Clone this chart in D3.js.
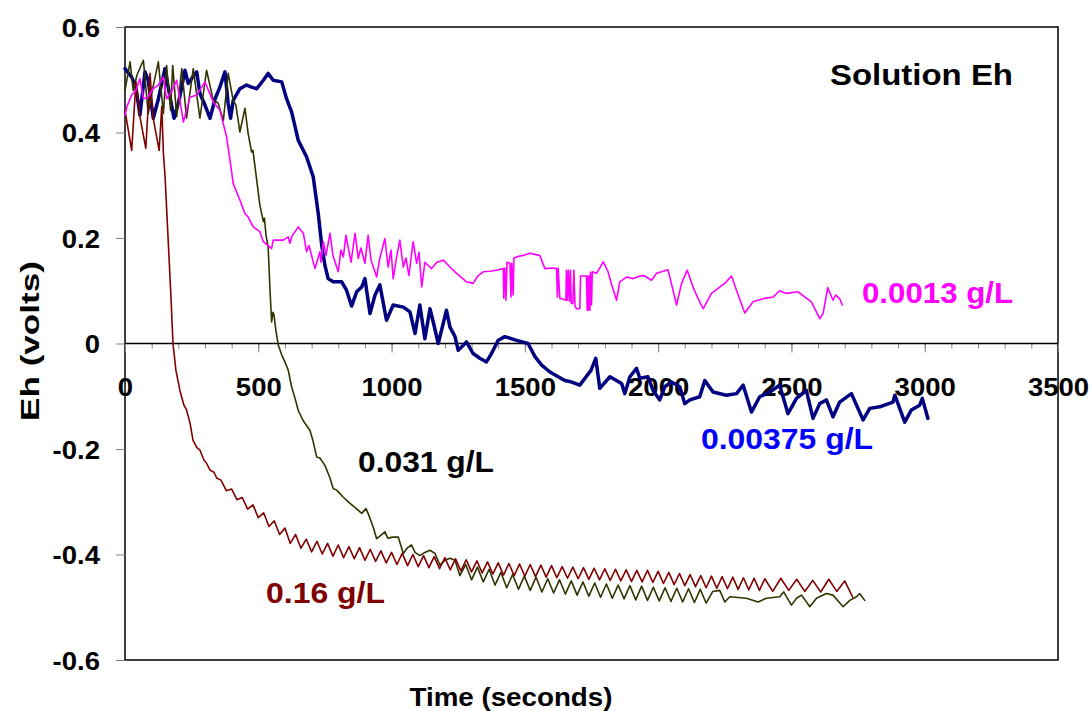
<!DOCTYPE html>
<html><head><meta charset="utf-8">
<script src="https://cdn.jsdelivr.net/npm/d3@7"></script>
<style>
body{margin:0;background:#fff}
svg{display:block}
text{font-family:"Liberation Sans",Arial,Helvetica,sans-serif;font-weight:bold}
</style>
</head><body>
<svg id="chart" width="1092" height="711"></svg>
<script>
// ---------- data ----------
const xTicks = [0, 500, 1000, 1500, 2000, 2500, 3000, 3500];
const xMinorTicks = [0,100,200,300,400,500,600,700,800,900,1000,1100,1200,1300,1400,1500,1600,1700,1800,1900,2000,2100,2200,2300,2400,2500,2600,2700,2800,2900,3000,3100,3200,3300,3400,3500];
const yTicks = [-0.6, -0.4, -0.2, 0, 0.2, 0.4, 0.6];
const seriesLabels = ["0.0013 g/L", "0.00375 g/L", "0.031 g/L", "0.16 g/L"];
const chartTitle = "Solution Eh";
const xTitle = "Time (seconds)";
const yTitle = "Eh (volts)";

// [time (s), Eh (V)]
const eh0013 = [[0,0.433],[8,0.450],[25,0.471],[41,0.480],[56,0.502],[69,0.464],[86,0.467],[106,0.483],[125,0.490],[144,0.505],[156,0.464],[173,0.476],[194,0.499],[219,0.420],[244,0.467],[269,0.471],[300,0.496],[331,0.458],[356,0.442],[381,0.392],[394,0.347],[406,0.303],[431,0.272],[450,0.246],[462,0.240],[481,0.221],[506,0.212],[519,0.193],[550,0.180],[556,0.196],[594,0.196],[612,0.202],[619,0.190],[626,0.203],[650,0.221],[669,0.209],[681,0.174],[690,0.186],[713,0.142],[731,0.174],[735,0.154],[744,0.193],[754,0.167],[769,0.209],[780,0.167],[800,0.136],[810,0.177],[819,0.164],[829,0.205],[837,0.183],[848,0.154],[863,0.209],[875,0.161],[885,0.181],[900,0.152],[912,0.205],[923,0.158],[944,0.126],[956,0.162],[975,0.199],[987,0.145],[998,0.177],[1006,0.123],[1020,0.167],[1031,0.196],[1044,0.145],[1054,0.162],[1065,0.129],[1081,0.193],[1094,0.152],[1103,0.173],[1113,0.107],[1125,0.154],[1150,0.142],[1170,0.154],[1194,0.158],[1219,0.145],[1244,0.133],[1281,0.117],[1306,0.114],[1324,0.128],[1344,0.136],[1369,0.137],[1394,0.139],[1419,0.142],[1421,0.086],[1425,0.143],[1429,0.082],[1433,0.154],[1444,0.152],[1448,0.088],[1451,0.152],[1456,0.092],[1459,0.162],[1474,0.165],[1494,0.167],[1519,0.171],[1538,0.169],[1556,0.167],[1575,0.142],[1601,0.143],[1619,0.142],[1622,0.088],[1625,0.143],[1631,0.086],[1643,0.084],[1654,0.082],[1656,0.139],[1659,0.082],[1663,0.139],[1667,0.080],[1671,0.139],[1674,0.076],[1680,0.076],[1684,0.139],[1688,0.071],[1694,0.066],[1706,0.066],[1709,0.128],[1731,0.128],[1734,0.063],[1736,0.128],[1739,0.063],[1741,0.128],[1744,0.063],[1746,0.135],[1750,0.073],[1753,0.136],[1769,0.133],[1781,0.143],[1794,0.155],[1812,0.136],[1826,0.111],[1844,0.082],[1856,0.117],[1881,0.126],[1906,0.123],[1938,0.129],[1950,0.128],[1975,0.120],[1994,0.133],[2037,0.140],[2051,0.111],[2069,0.073],[2088,0.114],[2109,0.139],[2131,0.107],[2149,0.086],[2169,0.066],[2200,0.095],[2231,0.107],[2254,0.116],[2275,0.128],[2294,0.101],[2325,0.058],[2356,0.079],[2394,0.085],[2431,0.088],[2456,0.100],[2481,0.095],[2525,0.098],[2546,0.090],[2575,0.079],[2606,0.047],[2619,0.057],[2636,0.106],[2656,0.082],[2666,0.092],[2681,0.085],[2691,0.073]];

const eh00375 = [[0,0.521],[25,0.505],[41,0.486],[56,0.433],[75,0.515],[87,0.499],[106,0.427],[124,0.461],[150,0.521],[162,0.486],[184,0.427],[203,0.461],[225,0.518],[237,0.493],[251,0.503],[269,0.515],[281,0.474],[300,0.452],[319,0.427],[338,0.464],[356,0.486],[375,0.515],[387,0.455],[396,0.427],[406,0.461],[431,0.483],[456,0.490],[475,0.486],[494,0.483],[519,0.499],[537,0.512],[556,0.499],[588,0.496],[606,0.464],[625,0.439],[650,0.385],[681,0.354],[706,0.316],[725,0.246],[738,0.186],[750,0.148],[762,0.123],[781,0.117],[813,0.117],[831,0.101],[850,0.071],[869,0.098],[888,0.107],[900,0.123],[919,0.057],[938,0.092],[956,0.111],[981,0.044],[1006,0.073],[1044,0.069],[1069,0.060],[1088,0.019],[1106,0.073],[1125,0.009],[1144,0.066],[1159,0.035],[1175,0.000],[1206,0.063],[1219,0.031],[1238,0.013],[1250,-0.013],[1281,0.003],[1306,-0.019],[1331,-0.028],[1356,-0.035],[1375,-0.019],[1400,0.006],[1425,0.013],[1469,0.006],[1512,0.000],[1538,-0.025],[1563,-0.041],[1594,-0.054],[1625,-0.063],[1650,-0.070],[1676,-0.073],[1706,-0.079],[1748,-0.051],[1766,-0.028],[1781,-0.085],[1819,-0.063],[1863,-0.076],[1875,-0.095],[1894,-0.063],[1919,-0.047],[1931,-0.066],[1962,-0.063],[1981,-0.089],[2006,-0.107],[2025,-0.082],[2050,-0.073],[2081,-0.082],[2100,-0.114],[2119,-0.107],[2156,-0.101],[2175,-0.070],[2206,-0.092],[2256,-0.098],[2294,-0.095],[2319,-0.079],[2350,-0.130],[2381,-0.101],[2419,-0.092],[2456,-0.079],[2487,-0.133],[2519,-0.104],[2556,-0.089],[2581,-0.142],[2606,-0.114],[2631,-0.107],[2656,-0.139],[2681,-0.111],[2725,-0.095],[2769,-0.145],[2794,-0.123],[2831,-0.120],[2881,-0.111],[2888,-0.098],[2925,-0.149],[2950,-0.126],[2981,-0.117],[2991,-0.104],[3012,-0.142]];

const eh031 = [[0,0.480],[19,0.534],[31,0.480],[45,0.509],[69,0.537],[87,0.436],[105,0.486],[125,0.534],[144,0.436],[156,0.527],[171,0.442],[179,0.527],[194,0.430],[213,0.521],[231,0.427],[256,0.521],[281,0.427],[306,0.518],[331,0.461],[349,0.456],[369,0.423],[387,0.512],[406,0.461],[416,0.452],[431,0.401],[450,0.446],[462,0.398],[475,0.363],[480,0.366],[494,0.310],[506,0.262],[519,0.231],[523,0.238],[529,0.205],[537,0.183],[544,0.101],[550,0.041],[555,0.059],[559,0.054],[566,0.025],[575,-0.003],[588,-0.022],[600,-0.035],[612,-0.050],[625,-0.082],[638,-0.104],[650,-0.127],[668,-0.146],[694,-0.165],[705,-0.184],[719,-0.215],[731,-0.217],[750,-0.231],[769,-0.255],[781,-0.275],[794,-0.278],[818,-0.291],[844,-0.303],[866,-0.312],[888,-0.322],[904,-0.313],[912,-0.322],[931,-0.348],[944,-0.370],[956,-0.365],[975,-0.357],[986,-0.369],[1005,-0.367],[1025,-0.367],[1044,-0.398],[1058,-0.388],[1075,-0.382],[1088,-0.396],[1106,-0.402],[1125,-0.396],[1144,-0.392],[1163,-0.398],[1181,-0.420],[1200,-0.411],[1219,-0.407],[1238,-0.411],[1256,-0.440],[1278,-0.419],[1300,-0.448],[1322,-0.424],[1344,-0.452],[1366,-0.428],[1388,-0.458],[1410,-0.434],[1432,-0.463],[1454,-0.438],[1476,-0.466],[1498,-0.441],[1520,-0.468],[1542,-0.443],[1564,-0.471],[1586,-0.446],[1608,-0.473],[1630,-0.448],[1652,-0.475],[1674,-0.450],[1696,-0.477],[1718,-0.452],[1740,-0.479],[1762,-0.454],[1784,-0.481],[1806,-0.456],[1828,-0.483],[1850,-0.458],[1872,-0.484],[1894,-0.459],[1916,-0.486],[1938,-0.460],[1960,-0.487],[1982,-0.462],[2004,-0.488],[2026,-0.463],[2048,-0.489],[2070,-0.464],[2092,-0.490],[2114,-0.465],[2136,-0.491],[2158,-0.466],[2180,-0.492],[2205,-0.470],[2231,-0.468],[2250,-0.490],[2269,-0.480],[2331,-0.483],[2375,-0.490],[2406,-0.483],[2456,-0.480],[2471,-0.471],[2500,-0.496],[2519,-0.483],[2538,-0.477],[2569,-0.499],[2594,-0.483],[2631,-0.474],[2656,-0.477],[2694,-0.499],[2719,-0.487],[2744,-0.480],[2756,-0.474],[2775,-0.487]];

const eh016 = [[0,0.442],[25,0.366],[41,0.496],[56,0.430],[78,0.370],[94,0.512],[105,0.429],[128,0.366],[138,0.449],[144,0.361],[150,0.319],[162,0.196],[173,0.082],[180,0.000],[191,-0.051],[206,-0.089],[221,-0.117],[231,-0.126],[244,-0.151],[255,-0.183],[269,-0.197],[281,-0.202],[296,-0.221],[306,-0.227],[319,-0.240],[334,-0.244],[344,-0.255],[360,-0.259],[380,-0.279],[400,-0.276],[420,-0.296],[440,-0.292],[460,-0.314],[480,-0.306],[500,-0.330],[520,-0.321],[540,-0.347],[560,-0.336],[580,-0.362],[600,-0.350],[620,-0.379],[640,-0.362],[660,-0.388],[680,-0.371],[700,-0.395],[720,-0.375],[740,-0.399],[760,-0.379],[780,-0.403],[800,-0.382],[820,-0.406],[840,-0.385],[860,-0.408],[880,-0.387],[900,-0.411],[920,-0.390],[940,-0.413],[960,-0.393],[980,-0.416],[1000,-0.396],[1020,-0.419],[1040,-0.398],[1060,-0.421],[1080,-0.400],[1100,-0.423],[1120,-0.402],[1140,-0.425],[1160,-0.404],[1180,-0.427],[1200,-0.406],[1220,-0.429],[1240,-0.408],[1260,-0.431],[1280,-0.410],[1300,-0.433],[1320,-0.412],[1340,-0.435],[1360,-0.414],[1380,-0.437],[1400,-0.416],[1420,-0.439],[1440,-0.417],[1460,-0.440],[1480,-0.418],[1500,-0.441],[1520,-0.419],[1540,-0.442],[1560,-0.420],[1580,-0.443],[1600,-0.421],[1620,-0.444],[1640,-0.423],[1660,-0.445],[1680,-0.424],[1700,-0.446],[1720,-0.425],[1740,-0.447],[1760,-0.426],[1780,-0.448],[1800,-0.427],[1820,-0.449],[1840,-0.428],[1860,-0.450],[1880,-0.429],[1900,-0.451],[1920,-0.430],[1940,-0.452],[1960,-0.430],[1980,-0.453],[2000,-0.432],[2020,-0.455],[2040,-0.434],[2060,-0.457],[2080,-0.436],[2100,-0.459],[2120,-0.438],[2140,-0.461],[2160,-0.440],[2180,-0.463],[2200,-0.441],[2220,-0.464],[2240,-0.442],[2260,-0.465],[2280,-0.443],[2300,-0.466],[2320,-0.444],[2340,-0.467],[2360,-0.445],[2380,-0.468],[2400,-0.446],[2430,-0.470],[2460,-0.445],[2490,-0.468],[2520,-0.447],[2550,-0.470],[2580,-0.449],[2610,-0.471],[2640,-0.447],[2670,-0.470],[2700,-0.450],[2730,-0.481]];

// ---------- layout ----------
const svg = d3.select("#chart");
const L = 125, R = 1058, T = 27, B = 660;
const x = d3.scaleLinear().domain([0, 3500]).range([L, R]);
const y = d3.scaleLinear().domain([-0.6, 0.6]).range([B, T]);

// frame
svg.append("rect").attr("x", L).attr("y", T).attr("width", R - L).attr("height", B - T)
  .attr("fill", "none").attr("stroke", "#000").attr("stroke-width", 1.5);

// y axis
const yAxis = svg.append("g").attr("transform", `translate(${L},0)`)
  .call(d3.axisLeft(y).tickValues(yTicks).tickSize(9).tickPadding(16)
    .tickFormat(d => d === 0 ? "0" : d.toFixed(1)));
yAxis.select(".domain").remove();
yAxis.selectAll("line").attr("stroke", "#808080");
yAxis.selectAll("text").attr("font-size", 25).attr("fill", "#000").attr("dy", "0.36em");

// x axis along y=0
const x0 = y(0);
const xMinor = svg.append("g").attr("transform", `translate(0,${x0})`)
  .call(d3.axisBottom(x).tickValues(xMinorTicks).tickSize(5).tickFormat(""));
xMinor.select(".domain").remove();
xMinor.selectAll("line").attr("stroke", "#808080");
const xAxis = svg.append("g").attr("transform", `translate(0,${x0})`)
  .call(d3.axisBottom(x).tickValues(xTicks).tickSize(9).tickFormat(d => String(d)));
xAxis.select(".domain").remove();
xAxis.selectAll("line").attr("stroke", "#808080");
xAxis.selectAll("text").attr("font-size", 25).attr("fill", "#000").attr("y", 52).attr("dy", 0);
svg.append("line").attr("x1", L).attr("x2", R).attr("y1", x0).attr("y2", x0)
  .attr("stroke", "#000").attr("stroke-width", 1.5);

// stretch tick labels slightly wider (reference glyphs are wide)
svg.selectAll(".tick text").each(function() {
  const w = this.getComputedTextLength();
  if (w > 0) d3.select(this).attr("textLength", w * 1.1).attr("lengthAdjust", "spacingAndGlyphs");
});

// lines
const line = d3.line().x(d => x(d[0])).y(d => y(d[1]));
const series = [
  {data: eh00375, color: "#000080", w: 3.5},
  {data: eh031, color: "#333300", w: 1.6},
  {data: eh016, color: "#800000", w: 1.6},
  {data: eh0013, color: "#FF00FF", w: 1.6}
];
svg.append("g").selectAll("path").data(series).join("path")
  .attr("d", d => line(d.data)).attr("fill", "none")
  .attr("stroke", d => d.color).attr("stroke-width", d => d.w)
  .attr("stroke-linejoin", "round").attr("stroke-linecap", "round");

// labels
const labels = [
  {t: chartTitle, x: 830, y: 85, s: 29, w: 183, c: "#000"},
  {t: seriesLabels[0], x: 862, y: 303, s: 30, w: 151, c: "#FF00FF"},
  {t: seriesLabels[1], x: 701, y: 449, s: 30, w: 172, c: "#0000FF"},
  {t: seriesLabels[2], x: 358, y: 472, s: 30, w: 136, c: "#000"},
  {t: seriesLabels[3], x: 266, y: 603, s: 30, w: 119, c: "#800000"}
];
svg.append("g").selectAll("text").data(labels).join("text")
  .attr("x", d => d.x).attr("y", d => d.y).attr("font-size", d => d.s)
  .attr("fill", d => d.c).attr("textLength", d => d.w).attr("lengthAdjust", "spacingAndGlyphs")
  .text(d => d.t);

// axis titles
svg.append("text").attr("x", 511).attr("y", 706).attr("text-anchor", "middle")
  .attr("font-size", 26).attr("fill", "#000")
  .attr("textLength", 203).attr("lengthAdjust", "spacingAndGlyphs").text(xTitle);
svg.append("text").attr("transform", "translate(39,341) rotate(-90)").attr("text-anchor", "middle")
  .attr("font-size", 26).attr("fill", "#000")
  .attr("textLength", 160).attr("lengthAdjust", "spacingAndGlyphs").text(yTitle);
</script>
</body></html>
